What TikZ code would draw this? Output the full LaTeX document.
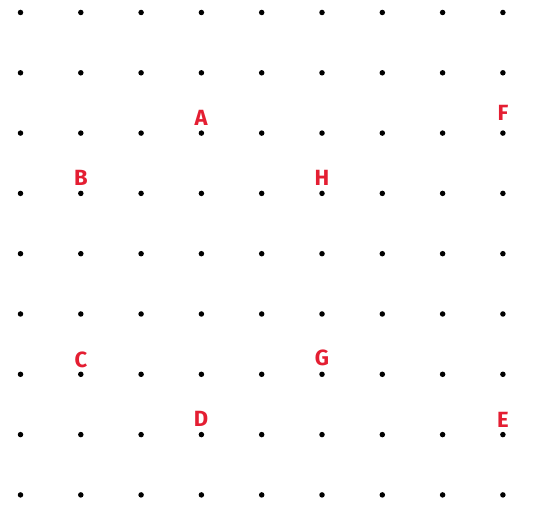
\documentclass[tikz,border=0pt]{standalone}
\usepackage{fontspec}
\setmainfont{Fira Sans}
\definecolor{lblred}{RGB}{228,30,50}
\begin{document}
\begin{tikzpicture}[x=1pt,y=-1pt,
  gdot/.style={circle,fill=black,inner sep=0pt,minimum size=5.5pt},
  lbl/.style={text=lblred,font=\fontsize{22}{22}\selectfont\bfseries,inner sep=0pt}]
\useasboundingbox[fill=white] (0,0) rectangle (541,510);
\foreach \i in {0,...,8}{
  \foreach \j in {0,...,8}{
    \node[gdot] (d-\i-\j) at ({20.5+60.3*\i},{12.5+60.3*\j}) {};
  }
}
\node[lbl] (A) at (201,118) {A};
\node[lbl] (B) at (81,178) {B};
\node[lbl] (H) at (322,178) {H};
\node[lbl] (F) at (503,113) {F};
\node[lbl] (C) at (81,360) {C};
\node[lbl] (G) at (322,358) {G};
\node[lbl] (D) at (201,419) {D};
\node[lbl] (E) at (503,420) {E};
\end{tikzpicture}
\end{document}
